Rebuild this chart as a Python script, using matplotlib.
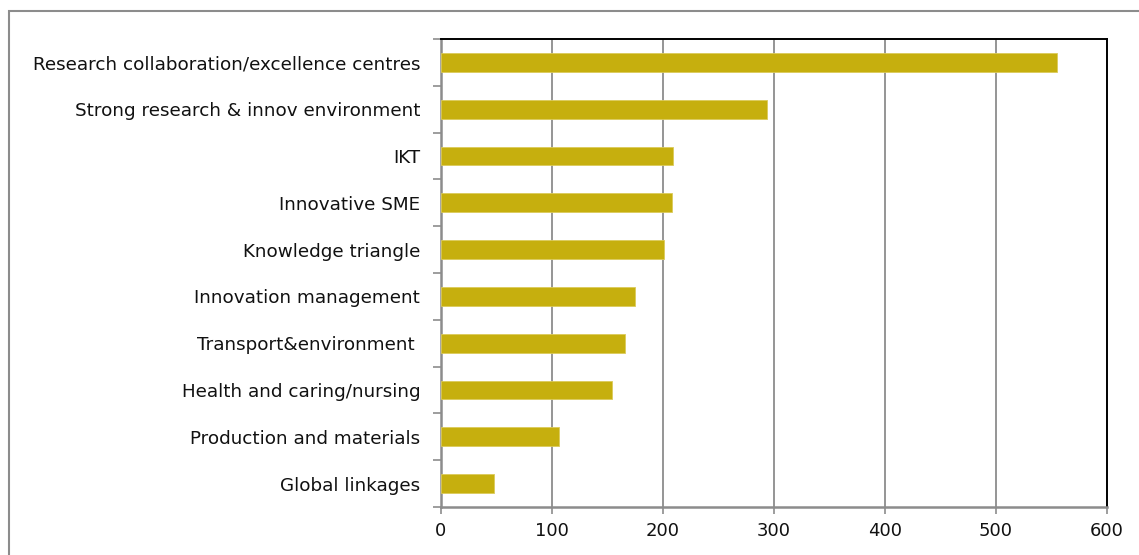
import matplotlib
matplotlib.use("Agg")
import matplotlib.pyplot as plt
from matplotlib.patches import Rectangle

categories = [
    "Research collaboration/excellence centres",
    "Strong research & innov environment",
    "IKT",
    "Innovative SME",
    "Knowledge triangle",
    "Innovation management",
    "Transport&environment ",
    "Health and caring/nursing",
    "Production and materials",
    "Global linkages",
]
values = [555, 294, 209, 208, 201, 175, 166, 154, 106, 48]
x_ticks = [0, 100, 200, 300, 400, 500, 600]

W, H = 1139, 555
fig = plt.figure(figsize=(W / 100, H / 100), dpi=100)
fig.patch.set_facecolor("white")

# outer chart frame (runs off the right and bottom edges)
fig.patches.append(Rectangle((9 / W, -0.1), 1.2, 1 - 10.5 / H + 0.1,
                             transform=fig.transFigure, fill=False,
                             edgecolor="#8c8c8c", linewidth=1.5))

left, right, top, bottom = 441, 1107, 39, 507
ax = fig.add_axes([left / W, 1 - bottom / H, (right - left) / W, (bottom - top) / H])

n = len(categories)
ypos = list(range(n))[::-1]
ax.barh(ypos, values, height=0.4, color="#C6AF0E", edgecolor="#DCCB5A",
        linewidth=0.6, zorder=3)

ax.set_xlim(0, 600)
ax.set_ylim(-0.5, n - 0.5)
ax.set_xticks(x_ticks)
ax.set_xticklabels([str(t) for t in x_ticks], fontsize=13, color="#111111")
ax.xaxis.grid(True, color="#8c8c8c", linewidth=1.3, zorder=0)
ax.set_axisbelow(True)

# category labels at bar centres, tick marks at category boundaries
ax.set_yticks([i - 0.5 for i in range(n + 1)])
ax.set_yticklabels([])
ax.set_yticks(ypos, minor=True)
ax.set_yticklabels(categories, minor=True, fontsize=13.2, color="#111111")
ax.tick_params(axis="y", which="minor", length=0, pad=15)
ax.tick_params(axis="y", which="major", length=6, width=1.2, color="#8c8c8c")
ax.tick_params(axis="x", length=5, width=1.2, color="#8c8c8c", pad=6)

for side in ("left", "bottom"):
    ax.spines[side].set_color("#8c8c8c")
    ax.spines[side].set_linewidth(1.8)
for side in ("top", "right"):
    ax.spines[side].set_color("black")
    ax.spines[side].set_linewidth(1.4)

fig.savefig("out.png", dpi=100)
